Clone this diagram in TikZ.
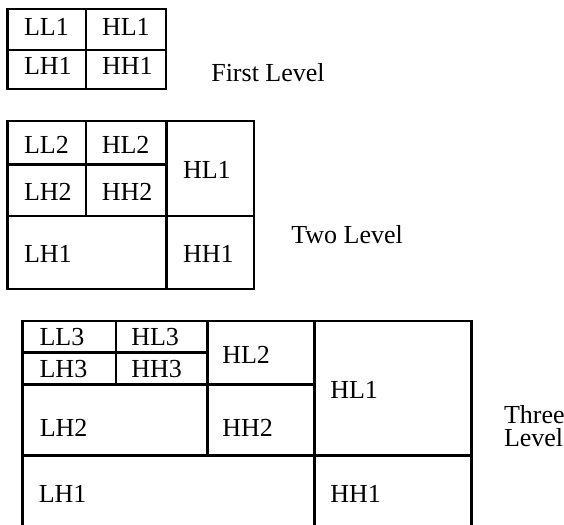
\documentclass[tikz,border=0pt]{standalone}
\usepackage{fontspec}
\setmainfont{Liberation Serif}
\begin{document}
\begin{tikzpicture}[x=1pt,y=-1pt,line width=2.6pt,
  lbl/.style={anchor=base west,inner sep=0pt,font=\fontsize{26}{30}\selectfont}]
\useasboundingbox (0,0) rectangle (564,524);
% ---- first level
\draw (7.5,9) rectangle (166,89);
\draw (7.5,50) -- (166,50);
\draw (86,9) -- (86,89);
\node[lbl] (a1) at (22.7,36) {LL1};
\node[lbl] (a2) at (100.7,36) {HL1};
\node[lbl] (a3) at (22.7,75) {LH1};
\node[lbl] (a4) at (100.7,75) {HH1};
\node[lbl] (t1) at (210,81.7) {First Level};
% ---- two level
\draw (7.3,121) rectangle (254,289);
\draw (7.3,216) -- (254,216);
\draw (166.7,121) -- (166.7,289);
\draw (7.3,164.3) -- (166.7,164.3);
\draw (86,121) -- (86,216);
\node[lbl] (b1) at (22.7,153) {LL2};
\node[lbl] (b2) at (100.5,153) {HL2};
\node[lbl] (b3) at (22.7,200) {LH2};
\node[lbl] (b4) at (100.5,200) {HH2};
\node[lbl] (b5) at (181.7,178) {HL1};
\node[lbl] (b6) at (22.7,262) {LH1};
\node[lbl] (b7) at (181.7,262) {HH1};
\node[lbl] (t2) at (290,243.3) {Two Level};
% ---- three level
\draw (22.7,530) -- (22.7,321) -- (471.7,321) -- (471.7,530);
\draw (22.7,455.5) -- (471.7,455.5);
\draw (314.7,321) -- (314.7,530);
\draw (22.7,384.5) -- (314.7,384.5);
\draw (207.3,321) -- (207.3,455.5);
\draw (22.7,352.5) -- (207.3,352.5);
\draw (116,321) -- (116,384.5);
\node[lbl] (c1) at (38.3,345) {LL3};
\node[lbl] (c2) at (130,345) {HL3};
\node[lbl] (c3) at (38.3,377.3) {LH3};
\node[lbl] (c4) at (130,377.3) {HH3};
\node[lbl] (c5) at (221,363) {HL2};
\node[lbl] (c6) at (329,398) {HL1};
\node[lbl] (c7) at (38.5,436.7) {LH2};
\node[lbl] (c8) at (221,436.7) {HH2};
\node[lbl] (c9) at (37.5,502) {LH1};
\node[lbl] (c10) at (329,502) {HH1};
\node[anchor=north west,inner sep=0pt,align=left,
      font=\fontsize{26}{23.3}\selectfont] (t3) at (502.7,403.9) {Three\\Level};
\end{tikzpicture}
\end{document}
